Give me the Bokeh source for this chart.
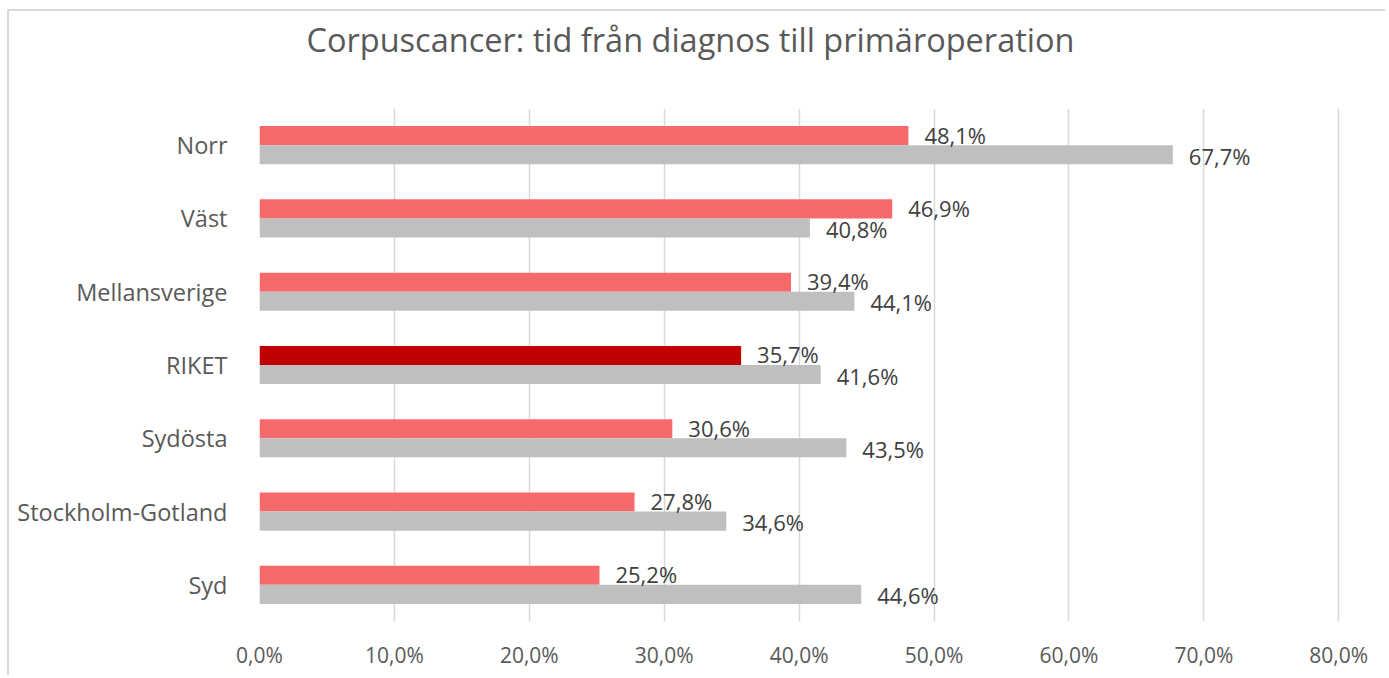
from bokeh.plotting import figure
from bokeh.models import ColumnDataSource, FactorRange, FixedTicker, Range1d
from bokeh.transform import dodge
from bokeh.core.properties import value
from bokeh.embed import file_html
from bokeh.resources import INLINE

title_text = "Corpuscancer: tid från diagnos till primäroperation"
categories = ["Norr", "Väst", "Mellansverige", "RIKET", "Sydösta", "Stockholm-Gotland", "Syd"]
red_values = [48.1, 46.9, 39.4, 35.7, 30.6, 27.8, 25.2]
gray_values = [67.7, 40.8, 44.1, 41.6, 43.5, 34.6, 44.6]
tick_values = [0, 10, 20, 30, 40, 50, 60, 70, 80]
tick_labels = ["0,0%", "10,0%", "20,0%", "30,0%", "40,0%", "50,0%", "60,0%", "70,0%", "80,0%"]
highlight = "RIKET"

def fmt(v):
    return f"{v:.1f}".replace(".", ",") + "%"

FONT = "Open Sans"
src = ColumnDataSource(dict(
    cat=categories,
    red=red_values,
    gray=gray_values,
    red_lbl=[fmt(v) for v in red_values],
    gray_lbl=[fmt(v) for v in gray_values],
    red_col=["#C00000" if c == highlight else "#F8696B" for c in categories],
))

p = figure(width=1378, height=666, output_backend="svg", toolbar_location=None,
           y_range=FactorRange(*categories[::-1]), x_range=Range1d(0, 80.5),
           min_border_left=250, min_border_right=42, min_border_top=97, min_border_bottom=56)
p.styles = {"border-top": "2px solid #D9D9D9", "border-left": "2px solid #D9D9D9",
            "margin-left": "7px", "margin-top": "9px"}

p.title.text = title_text
p.title.text_font = FONT
p.title.text_font_size = "32.5px"
p.title.text_font_style = "normal"
p.title.text_color = "#595959"
p.title.align = "left"
p.title.offset = 47
p.title.vertical_align = "bottom"
p.title.standoff = 0
p.title.padding = dict(left=0, right=0, top=0, bottom=47)

p.hbar(y=dodge("cat", 0.13, range=p.y_range), right="red", left=0, height=0.26,
       fill_color="red_col", line_color=None, source=src)
p.hbar(y=dodge("cat", -0.13, range=p.y_range), right="gray", left=0, height=0.26,
       fill_color="#BFBFBF", line_color=None, source=src)

p.text(x="red", y=dodge("cat", 0.13, range=p.y_range), text="red_lbl", source=src,
       x_offset=16, y_offset=-1, text_baseline="middle", text_align="left",
       text_font=value(FONT), text_font_size="22px", text_color="#404040")
p.text(x="gray", y=dodge("cat", -0.13, range=p.y_range), text="gray_lbl", source=src,
       x_offset=16, y_offset=1, text_baseline="middle", text_align="left",
       text_font=value(FONT), text_font_size="22px", text_color="#404040")

xax = p.below[0]
xax.ticker = FixedTicker(ticks=tick_values)
xax.major_label_overrides = {t: l for t, l in zip(tick_values, tick_labels)}
xax.axis_line_color = None
xax.major_tick_line_color = None
xax.minor_tick_line_color = None
xax.major_label_standoff = 13
xax.major_label_text_font = FONT
xax.major_label_text_font_size = "21px"
xax.major_label_text_color = "#595959"

p.yaxis.axis_line_color = None
p.yaxis.major_tick_line_color = None
p.yaxis.minor_tick_line_color = None
p.yaxis.major_label_standoff = 26
p.yaxis.major_label_text_font = FONT
p.yaxis.major_label_text_font_size = "23.5px"
p.yaxis.major_label_text_color = "#595959"

p.xgrid.grid_line_color = "#D9D9D9"
p.xgrid.grid_line_width = 1.5
p.ygrid.grid_line_color = None
p.outline_line_color = None

open("out.html", "w").write(file_html(p, INLINE))
